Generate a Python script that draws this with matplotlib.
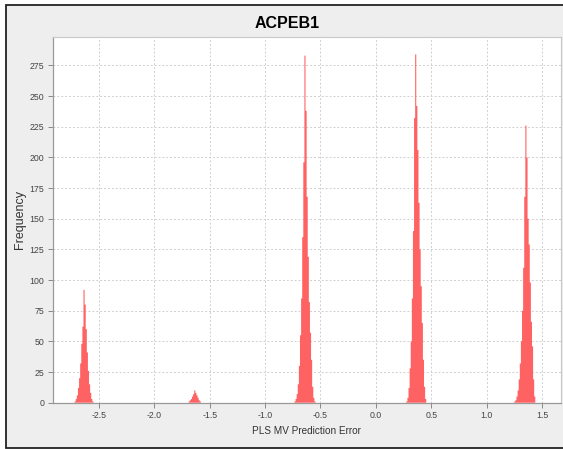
import numpy as np
import matplotlib
matplotlib.use("Agg")
import matplotlib.pyplot as plt
import matplotlib.patches as patches

plt.rcParams['font.family'] = ['Liberation Sans', 'DejaVu Sans']

# Histogram data (bin width 0.01)
bin_width = 0.01
peak_centers = [-2.635, -1.635, -0.64, 0.36, 1.355]
peak_counts = [
    [1, 3, 6, 12, 20, 32, 48, 62, 92, 80, 60, 41, 26, 15, 8, 3, 1],
    [1, 2, 3, 5, 7, 10, 8, 6, 4, 2, 1],
    [1, 3, 7, 15, 30, 55, 85, 135, 196, 283, 238, 168, 119, 82, 57, 35, 13, 4, 1],
    [1, 4, 12, 28, 50, 85, 140, 232, 284, 242, 206, 163, 125, 95, 65, 35, 13, 3],
    [1, 2, 5, 10, 19, 32, 50, 75, 110, 168, 226, 200, 150, 129, 98, 66, 46, 19, 5],
]
x_ticks = [-2.5, -2.0, -1.5, -1.0, -0.5, 0.0, 0.5, 1.0, 1.5]
y_ticks = [0, 25, 50, 75, 100, 125, 150, 175, 200, 225, 250, 275]

W, H = 563, 449
fig = plt.figure(figsize=(W / 100, H / 100), dpi=100)
fig.patch.set_facecolor('white')

# chart frame (gray panel with dark outline, right edge cropped)
frame = patches.Rectangle((6 / W, 1 - 447.5 / H), 600 / W, 442.5 / H,
                          transform=fig.transFigure, facecolor='#eeeeee',
                          edgecolor='#222222', linewidth=1.3, zorder=-10)
fig.patches.append(frame)

ax = fig.add_axes([52.7 / W, 1 - 402.7 / H, (561 - 52.7) / W, (402.7 - 36.5) / H])
ax.set_zorder(5)
ax.set_facecolor('white')

for c, counts in zip(peak_centers, peak_counts):
    k = int(np.argmax(counts))
    start = c - k * bin_width - bin_width / 2
    edges = start + np.arange(len(counts) + 1) * bin_width
    st = ax.stairs(counts, edges, fill=True, facecolor='#ff6262',
                   edgecolor='none', linewidth=0, zorder=3)
    st.set_snap(False)

ax.set_xlim(-2.918, 1.672)
ax.set_ylim(0, 298.6)
ax.set_xticks(x_ticks)
ax.set_xticklabels([f"{t:.1f}" for t in x_ticks])
ax.set_yticks(y_ticks)

ax.grid(True, color='#cfcfcf', linestyle=(0, (2, 2)), linewidth=0.7, zorder=1)
ax.tick_params(axis='both', labelsize=6.3, colors='#888888', labelcolor='#444444',
               length=3.5, width=0.7, pad=2.5)

for side in ['top', 'right']:
    ax.spines[side].set_color('#c8c8c8')
    ax.spines[side].set_linewidth(0.8)
for side in ['left', 'bottom']:
    ax.spines[side].set_color('#999999')
    ax.spines[side].set_linewidth(0.9)

ax.set_xlabel("PLS MV Prediction Error", fontsize=7.2, color='#333333', labelpad=4)
ax.set_ylabel("Frequency", fontsize=9, color='#333333')
ax.yaxis.set_label_coords(-0.0525, 0.5)

fig.text(287 / W, 1 - 23.5 / H, "ACPEB1", ha='center', va='center',
         fontsize=11.5, fontweight='bold', color='black')

fig.savefig("out.png", dpi=100)
